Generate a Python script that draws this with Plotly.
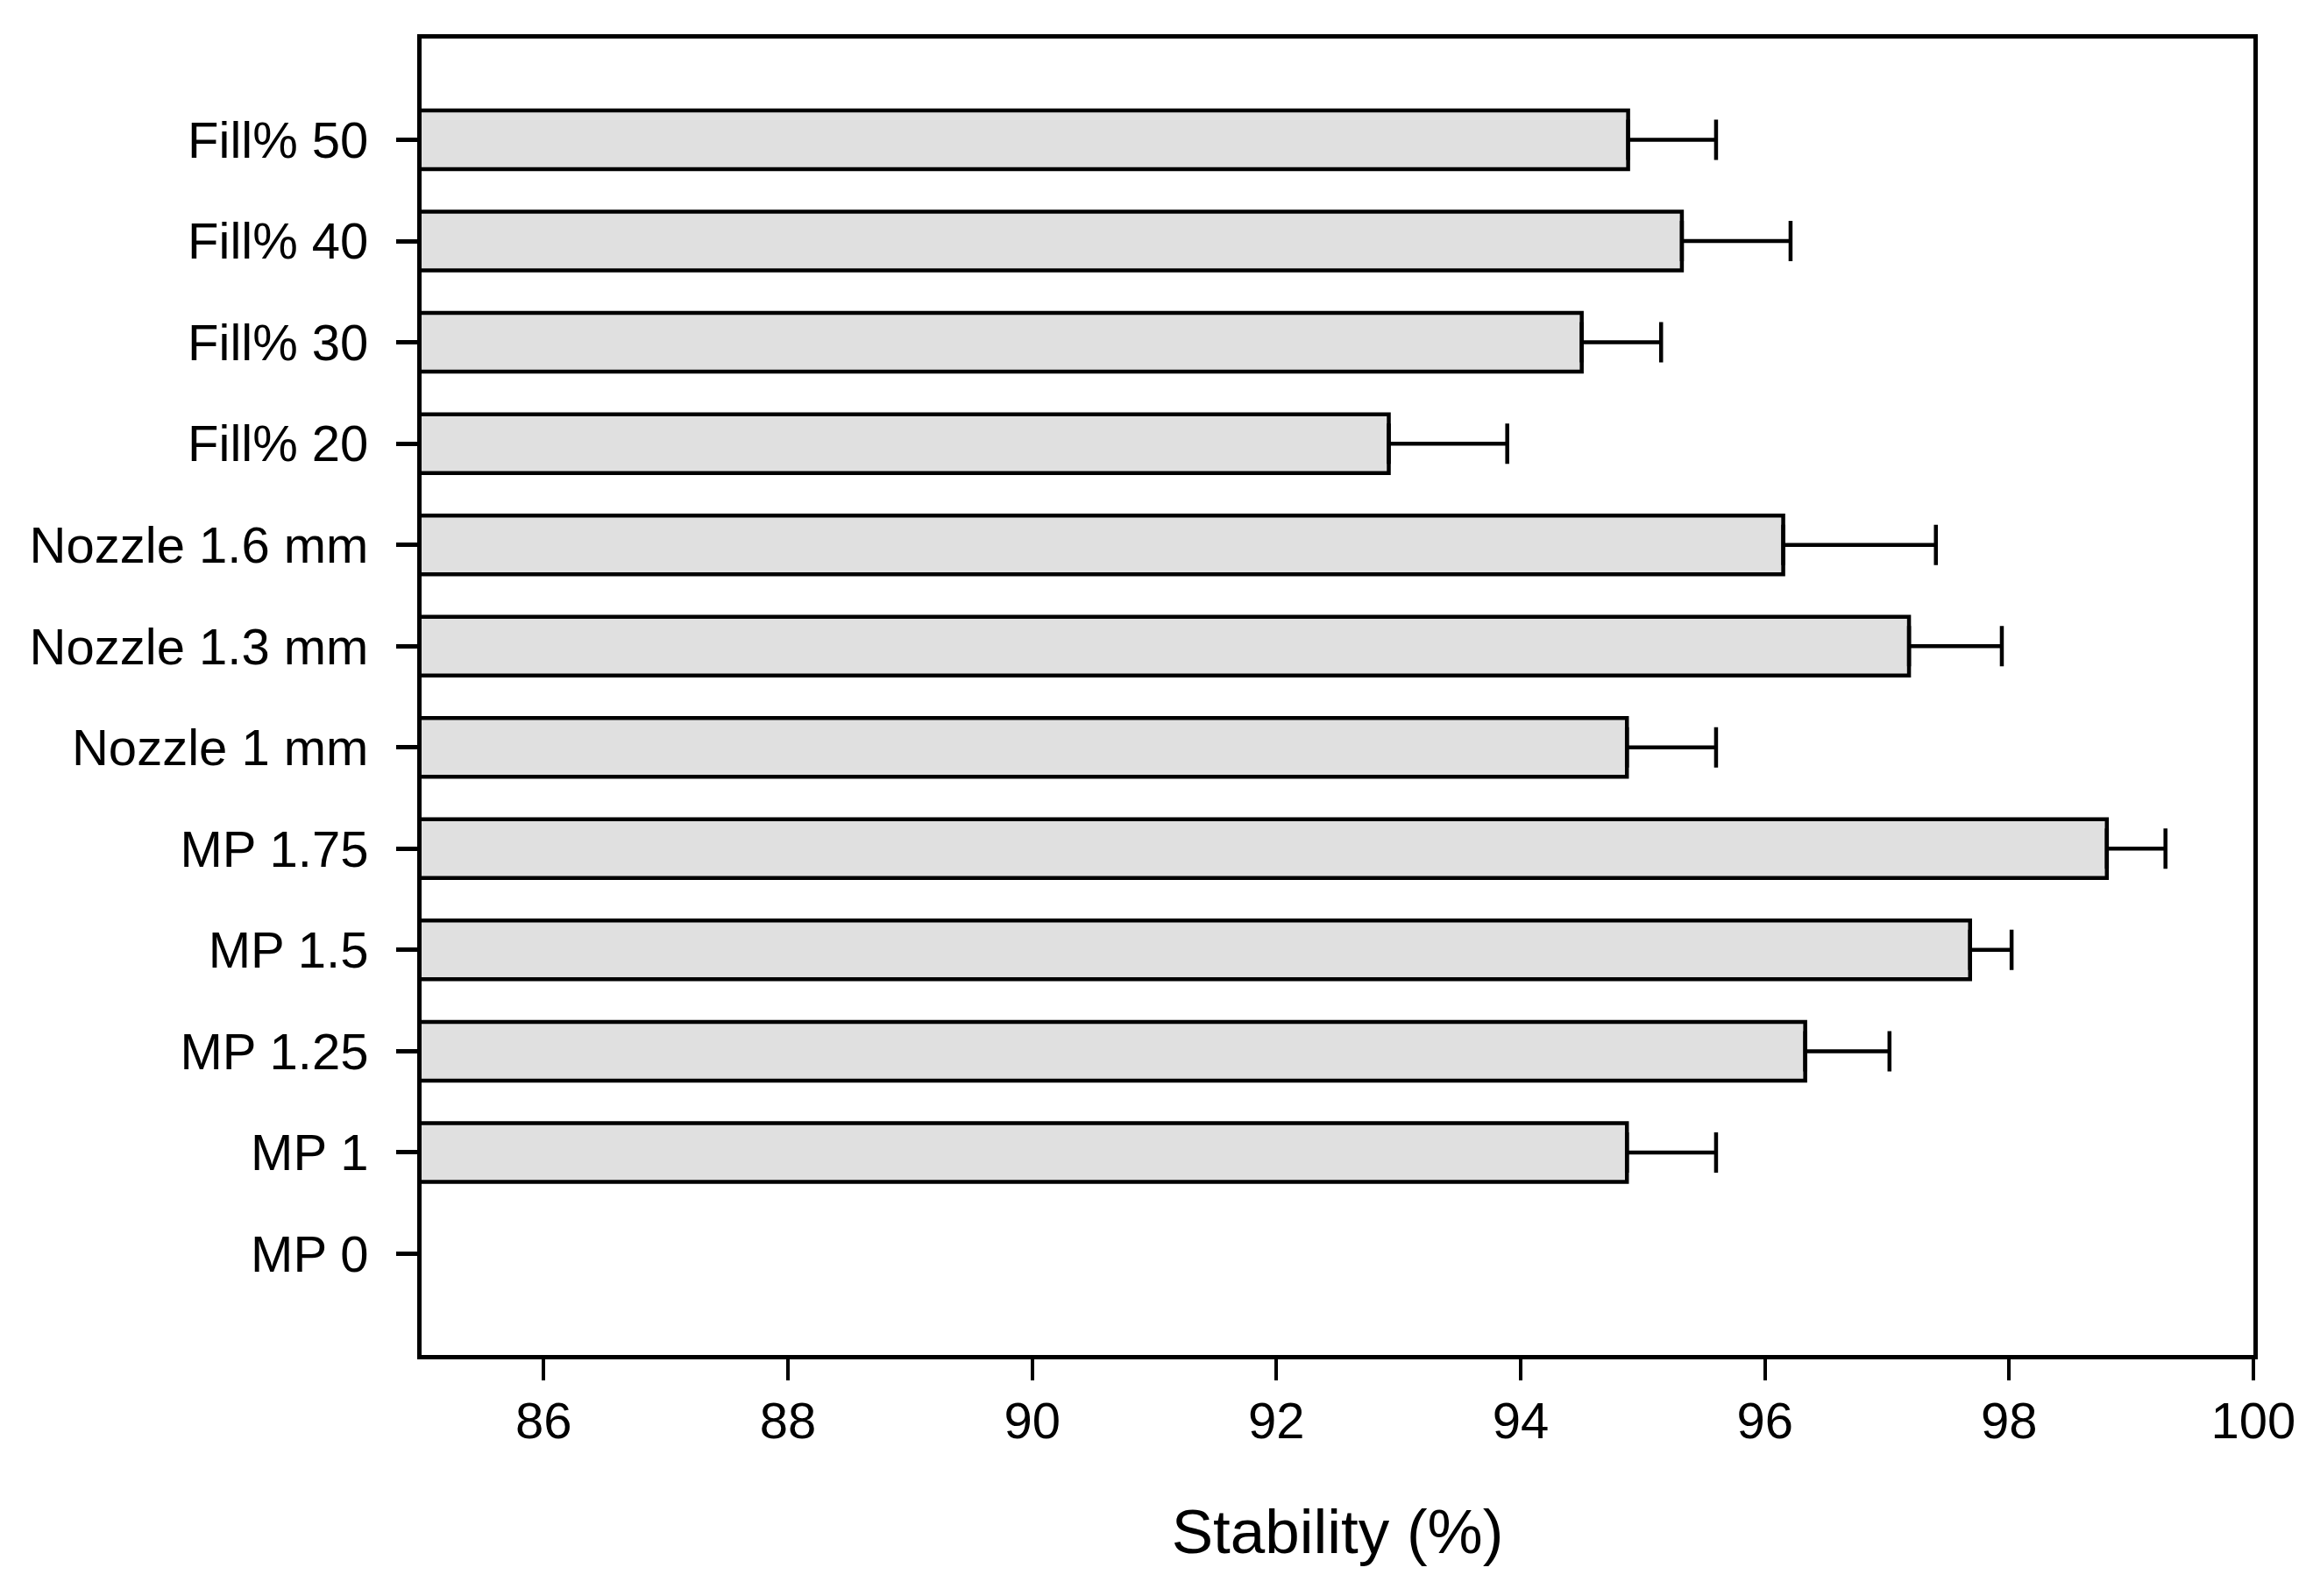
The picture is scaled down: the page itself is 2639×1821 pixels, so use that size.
import plotly.graph_objects as go

categories = ["MP 0", "MP 1", "MP 1.25", "MP 1.5", "MP 1.75",
              "Nozzle 1 mm", "Nozzle 1.3 mm", "Nozzle 1.6 mm",
              "Fill% 20", "Fill% 30", "Fill% 40", "Fill% 50"]
stability = [None, 94.87, 96.33, 97.68, 98.80,
             94.87, 97.18, 96.15,
             92.92, 94.50, 95.32, 94.88]
errors = [None, 0.73, 0.69, 0.34, 0.48,
          0.73, 0.76, 1.25,
          0.97, 0.65, 0.89, 0.72]
x_ticks = [86, 88, 90, 92, 94, 96, 98, 100]

FONT = "Liberation Sans, Arial, sans-serif"

fig = go.Figure()
fig.add_trace(go.Bar(
    y=categories,
    x=stability,
    orientation="h",
    width=0.58,
    marker=dict(color="#e0e0e0", line=dict(color="black", width=4.5)),
    error_x=dict(type="data", symmetric=False,
                 array=[e if e is not None else 0 for e in errors],
                 arrayminus=[0] * len(errors),
                 color="black", thickness=4.5, width=23),
    showlegend=False,
))

fig.update_layout(
    width=2639, height=1821,
    margin=dict(l=473, r=76, t=36, b=283),
    paper_bgcolor="white", plot_bgcolor="white",
    font=dict(family=FONT, size=58, color="black"),
)
fig.update_xaxes(
    range=[85, 100], tickvals=x_ticks,
    showline=True, linecolor="black", linewidth=5, mirror=True,
    ticks="outside", ticklen=24, tickwidth=4, tickcolor="black",
    showgrid=False, zeroline=False,
    tickfont=dict(family=FONT, size=58, color="black"),
    ticklabelstandoff=-4,
    title=dict(text="Stability (%)", font=dict(family=FONT, size=71, color="black"), standoff=72),
)
fig.update_yaxes(
    type="category", categoryorder="array", categoryarray=categories,
    range=[-1, 12],
    showline=True, linecolor="black", linewidth=5, mirror=True,
    ticks="outside", ticklen=24, tickwidth=5, tickcolor="black",
    showgrid=False, zeroline=False,
    tickfont=dict(family=FONT, size=58, color="black"),
    ticklabelstandoff=20,
)

fig.write_html("out.html")
